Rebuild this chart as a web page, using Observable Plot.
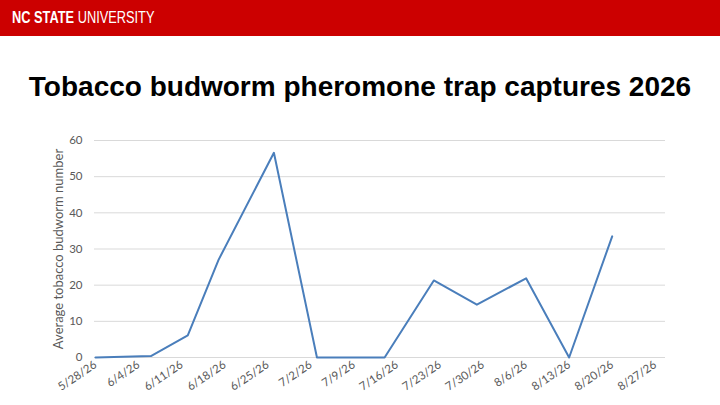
<!DOCTYPE html>
<html>
<head>
<meta charset="utf-8">
<script src="https://cdn.jsdelivr.net/npm/d3@7"></script>
<script src="https://cdn.jsdelivr.net/npm/@observablehq/plot@0.6"></script>
<style>
  html, body { margin: 0; padding: 0; background: #fff; }
  #page { position: relative; width: 720px; height: 405px; overflow: hidden; background: #fff; }
  #band { position: absolute; left: 0; top: 0; width: 720px; height: 36px; background: #cc0000; }
  #brand { position: absolute; left: 12px; top: 8px; color: #fff; font-family: "Liberation Sans", Arial, sans-serif; font-size: 16px; line-height: 20px; white-space: nowrap; transform: scaleX(0.8); transform-origin: 0 50%; }
  #brand b { font-weight: 700; }
  #title { position: absolute; left: 0; top: 70px; width: 720px; text-align: center; font-family: "Liberation Sans", Arial, sans-serif; font-weight: 700; font-size: 28px; line-height: 34px; color: #000; white-space: nowrap; }
  #chart { position: absolute; left: 0; top: 120px; }
</style>
</head>
<body>
<div id="page">
  <div id="band"><div id="brand"><b>NC STATE</b> UNIVERSITY</div></div>
  <div id="title">Tobacco budworm pheromone trap captures 2026</div>
  <div id="chart"></div>
</div>
<script>
const dates = ["2026-05-28","2026-06-06","2026-06-12","2026-06-17","2026-06-26","2026-07-03","2026-07-09","2026-07-14","2026-07-22","2026-07-29","2026-08-06","2026-08-13","2026-08-20"];
const values = [0, 0.4, 6.1, 27, 56.6, 0, 0, 0, 21.3, 14.6, 21.9, 0, 33.5];
const xTickLabels = ["5/28/26","6/4/26","6/11/26","6/18/26","6/25/26","7/2/26","7/9/26","7/16/26","7/23/26","7/30/26","8/6/26","8/13/26","8/20/26","8/27/26"];
const yTicks = [0, 10, 20, 30, 40, 50, 60];
const yLabel = "Average tobacco budworm number";

const parseLabel = s => { const [m, d, y] = s.split("/").map(Number); return new Date(Date.UTC(2000 + y, m - 1, d)); };
const xTicks = xTickLabels.map(parseLabel);
const data = dates.map((d, i) => ({ date: new Date(d + "T00:00:00Z"), value: values[i] }));
const fmt = d3.utcFormat("%-m/%-d/%y");

const chart = Plot.plot({
  width: 720,
  height: 285,
  marginLeft: 94,
  marginRight: 55,
  marginTop: 20,
  marginBottom: 48,
  style: { fontFamily: "Lato, 'Open Sans', sans-serif", background: "transparent" },
  x: { type: "utc", domain: [new Date(Date.UTC(2026, 4, 27, 20)), new Date(Date.UTC(2026, 7, 28, 16))] },
  y: { domain: [0, 60] },
  marks: [
    Plot.gridY(yTicks, { stroke: "#d9d9d9", strokeOpacity: 1, strokeWidth: 1 }),
    Plot.axisY(yTicks, { tickSize: 0, tickPadding: 12, fill: "#595959", fontSize: 11.5, label: null }),
    Plot.axisX(xTicks, { tickSize: 0, tickPadding: 6, tickRotate: -34, tickFormat: fmt, fill: "#595959", fontSize: 11.5, label: null }),
    Plot.text([yLabel], { frameAnchor: "left", dx: -36, rotate: -90, textAnchor: "middle", fontSize: 13, fill: "#595959" }),
    Plot.lineY(data, { x: "date", y: "value", stroke: "#4a7ebb", strokeWidth: 2 })
  ]
});
document.getElementById("chart").appendChild(chart);
</script>
</body>
</html>
